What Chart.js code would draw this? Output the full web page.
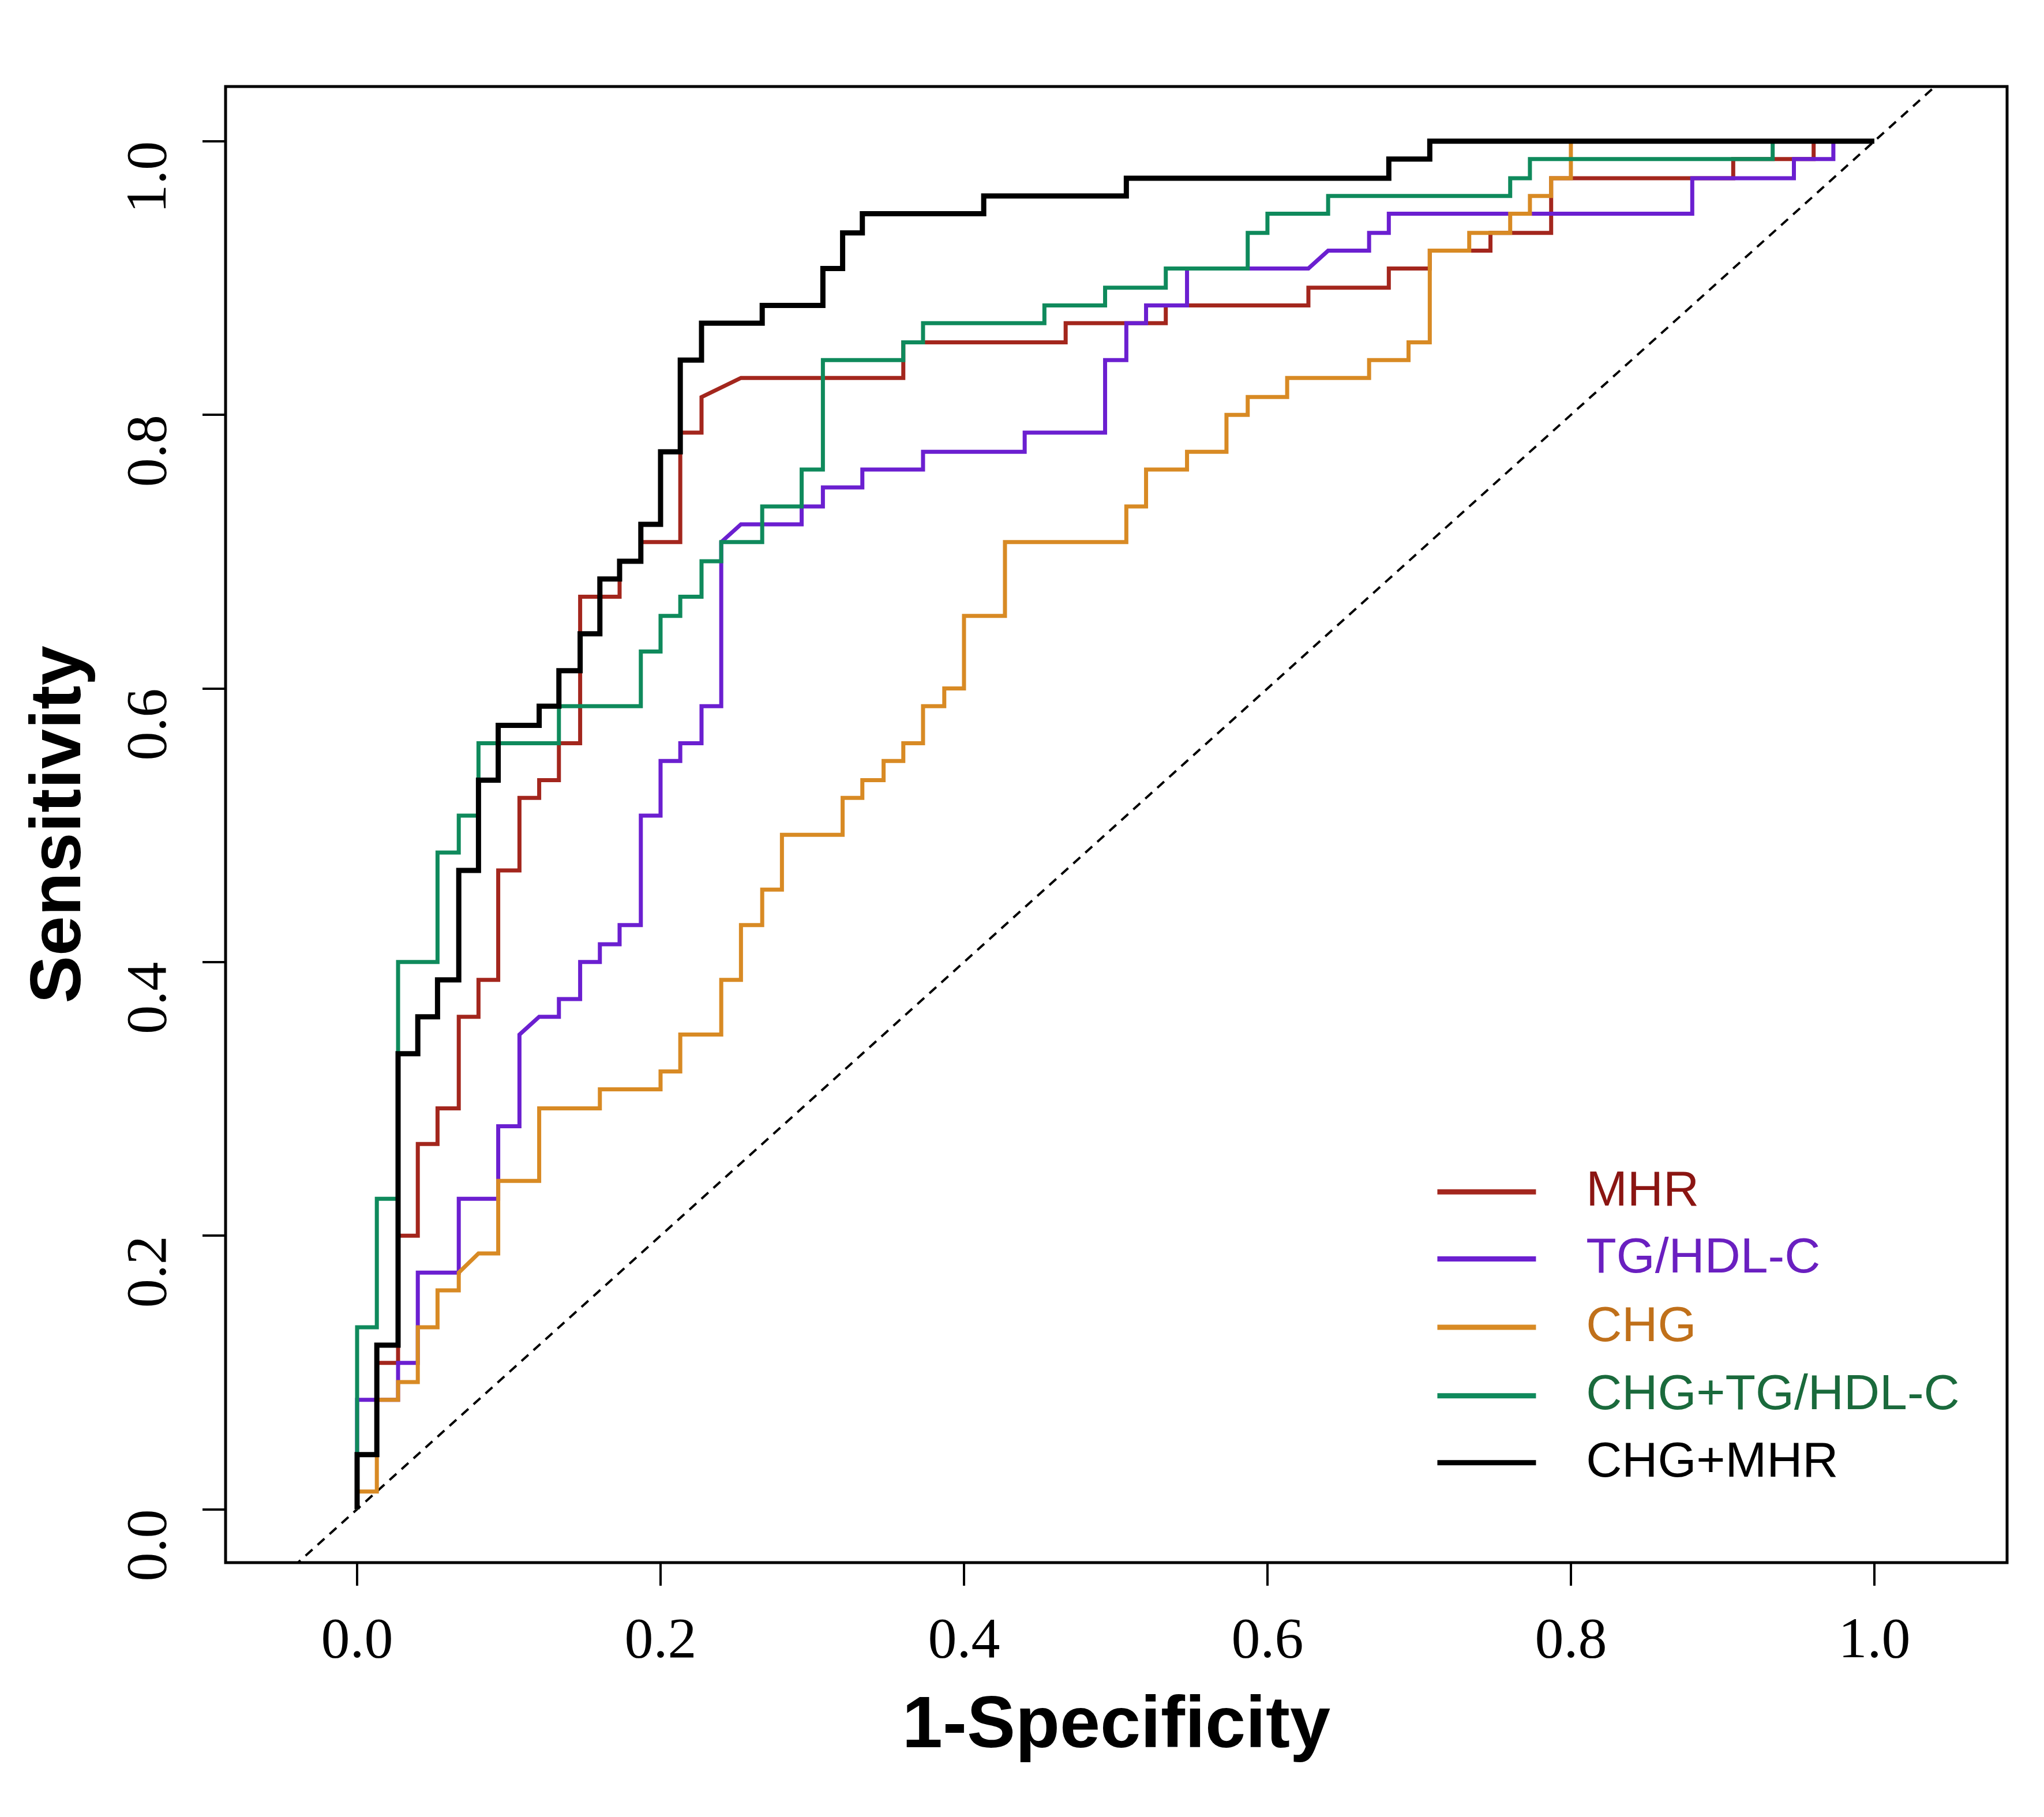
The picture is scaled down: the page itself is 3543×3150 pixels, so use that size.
<!DOCTYPE html>
<html>
<head>
<meta charset="utf-8">
<script src="https://cdn.jsdelivr.net/npm/chart.js@4.4.1/dist/chart.umd.min.js"></script>
<style>
  html, body { margin: 0; padding: 0; background: #fff; }
  canvas { display: block; }
</style>
</head>
<body>
<canvas id="roc" width="3543" height="3150"></canvas>
<script>
const seriesNames = ["MHR", "TG/HDL-C", "CHG", "CHG+TG/HDL-C", "CHG+MHR"];
const lineColors = ["#a3261d", "#6b1fd0", "#d88a24", "#0f8a5c", "#000000"];
const labelColors = ["#8b1512", "#6a1fc0", "#c0701a", "#1a6a3c", "#000000"];
const tickValues = [0, 0.2, 0.4, 0.6, 0.8, 1.0];

const mhr = [[0,0],[0,0.04],[0.013,0.04],[0.013,0.107],[0.027,0.107],[0.027,0.2],[0.04,0.2],[0.04,0.267],[0.053,0.267],[0.053,0.293],[0.067,0.293],[0.067,0.36],[0.08,0.36],[0.08,0.387],[0.093,0.387],[0.093,0.467],[0.107,0.467],[0.107,0.52],[0.12,0.52],[0.12,0.533],[0.133,0.533],[0.133,0.56],[0.147,0.56],[0.147,0.667],[0.173,0.667],[0.173,0.693],[0.187,0.693],[0.187,0.707],[0.213,0.707],[0.213,0.787],[0.227,0.787],[0.227,0.813],[0.253,0.827],[0.36,0.827],[0.36,0.853],[0.467,0.853],[0.467,0.867],[0.533,0.867],[0.533,0.88],[0.627,0.88],[0.627,0.893],[0.68,0.893],[0.68,0.907],[0.707,0.907],[0.707,0.92],[0.747,0.92],[0.747,0.933],[0.787,0.933],[0.787,0.973],[0.907,0.973],[0.907,0.987],[0.96,0.987],[0.96,1],[1,1]];
const tgHdl = [[0,0],[0,0.08],[0.027,0.08],[0.027,0.107],[0.04,0.107],[0.04,0.173],[0.067,0.173],[0.067,0.227],[0.093,0.227],[0.093,0.28],[0.107,0.28],[0.107,0.347],[0.12,0.36],[0.133,0.36],[0.133,0.373],[0.147,0.373],[0.147,0.4],[0.16,0.4],[0.16,0.413],[0.173,0.413],[0.173,0.427],[0.187,0.427],[0.187,0.507],[0.2,0.507],[0.2,0.547],[0.213,0.547],[0.213,0.56],[0.227,0.56],[0.227,0.587],[0.24,0.587],[0.24,0.707],[0.253,0.72],[0.293,0.72],[0.293,0.733],[0.307,0.733],[0.307,0.747],[0.333,0.747],[0.333,0.76],[0.373,0.76],[0.373,0.773],[0.44,0.773],[0.44,0.787],[0.493,0.787],[0.493,0.84],[0.507,0.84],[0.507,0.867],[0.52,0.867],[0.52,0.88],[0.547,0.88],[0.547,0.907],[0.627,0.907],[0.64,0.92],[0.667,0.92],[0.667,0.933],[0.68,0.933],[0.68,0.947],[0.88,0.947],[0.88,0.973],[0.947,0.973],[0.947,0.987],[0.973,0.987],[0.973,1],[1,1]];
const chg = [[0,0],[0,0.013],[0.013,0.013],[0.013,0.08],[0.027,0.08],[0.027,0.093],[0.04,0.093],[0.04,0.133],[0.053,0.133],[0.053,0.16],[0.067,0.16],[0.067,0.173],[0.08,0.187],[0.093,0.187],[0.093,0.24],[0.12,0.24],[0.12,0.293],[0.16,0.293],[0.16,0.307],[0.2,0.307],[0.2,0.32],[0.213,0.32],[0.213,0.347],[0.24,0.347],[0.24,0.387],[0.253,0.387],[0.253,0.427],[0.267,0.427],[0.267,0.453],[0.28,0.453],[0.28,0.493],[0.32,0.493],[0.32,0.52],[0.333,0.52],[0.333,0.533],[0.347,0.533],[0.347,0.547],[0.36,0.547],[0.36,0.56],[0.373,0.56],[0.373,0.587],[0.387,0.587],[0.387,0.6],[0.4,0.6],[0.4,0.653],[0.427,0.653],[0.427,0.707],[0.507,0.707],[0.507,0.733],[0.52,0.733],[0.52,0.76],[0.547,0.76],[0.547,0.773],[0.573,0.773],[0.573,0.8],[0.587,0.8],[0.587,0.813],[0.613,0.813],[0.613,0.827],[0.667,0.827],[0.667,0.84],[0.693,0.84],[0.693,0.853],[0.707,0.853],[0.707,0.92],[0.733,0.92],[0.733,0.933],[0.76,0.933],[0.76,0.947],[0.773,0.947],[0.773,0.96],[0.787,0.96],[0.787,0.973],[0.8,0.973],[0.8,1],[1,1]];
const chgTgHdl = [[0,0],[0,0.133],[0.013,0.133],[0.013,0.227],[0.027,0.227],[0.027,0.4],[0.053,0.4],[0.053,0.48],[0.067,0.48],[0.067,0.507],[0.08,0.507],[0.08,0.56],[0.133,0.56],[0.133,0.587],[0.187,0.587],[0.187,0.627],[0.2,0.627],[0.2,0.653],[0.213,0.653],[0.213,0.667],[0.227,0.667],[0.227,0.693],[0.24,0.693],[0.24,0.707],[0.267,0.707],[0.267,0.733],[0.293,0.733],[0.293,0.76],[0.307,0.76],[0.307,0.84],[0.36,0.84],[0.36,0.853],[0.373,0.853],[0.373,0.867],[0.453,0.867],[0.453,0.88],[0.493,0.88],[0.493,0.893],[0.533,0.893],[0.533,0.907],[0.587,0.907],[0.587,0.933],[0.6,0.933],[0.6,0.947],[0.64,0.947],[0.64,0.96],[0.76,0.96],[0.76,0.973],[0.773,0.973],[0.773,0.987],[0.933,0.987],[0.933,1],[1,1]];
const chgMhr = [[0,0],[0,0.04],[0.013,0.04],[0.013,0.12],[0.027,0.12],[0.027,0.333],[0.04,0.333],[0.04,0.36],[0.053,0.36],[0.053,0.387],[0.067,0.387],[0.067,0.467],[0.08,0.467],[0.08,0.533],[0.093,0.533],[0.093,0.573],[0.12,0.573],[0.12,0.587],[0.133,0.587],[0.133,0.613],[0.147,0.613],[0.147,0.64],[0.16,0.64],[0.16,0.68],[0.173,0.68],[0.173,0.693],[0.187,0.693],[0.187,0.72],[0.2,0.72],[0.2,0.773],[0.213,0.773],[0.213,0.84],[0.227,0.84],[0.227,0.867],[0.267,0.867],[0.267,0.88],[0.307,0.88],[0.307,0.907],[0.32,0.907],[0.32,0.933],[0.333,0.933],[0.333,0.947],[0.413,0.947],[0.413,0.96],[0.507,0.96],[0.507,0.973],[0.68,0.973],[0.68,0.987],[0.707,0.987],[0.707,1],[1,1]];
const diagonal = [[-0.2,-0.2],[1.2,1.2]];

const curves = [mhr, tgHdl, chg, chgTgHdl, chgMhr];
const toPts = (arr) => arr.map(([x, y]) => ({ x, y }));

const serif = "'Liberation Serif', 'DejaVu Serif', serif";
const sans = "'Liberation Sans', Arial, sans-serif";

const frameAndLegend = {
  id: "frameAndLegend",
  afterDraw(chart) {
    const { ctx, chartArea, scales } = chart;
    ctx.save();
    ctx.strokeStyle = "#000";
    ctx.lineWidth = 5;
    ctx.strokeRect(chartArea.left, chartArea.top, chartArea.right - chartArea.left, chartArea.bottom - chartArea.top);
    // legend
    const rowsY = [0.232, 0.183, 0.133, 0.083, 0.034];
    const x1 = scales.x.getPixelForValue(0.712);
    const x2 = scales.x.getPixelForValue(0.777);
    const xt = scales.x.getPixelForValue(0.81);
    ctx.font = `86px ${sans}`;
    ctx.textBaseline = "middle";
    seriesNames.forEach((name, i) => {
      const y = scales.y.getPixelForValue(rowsY[i]);
      ctx.strokeStyle = lineColors[i];
      ctx.lineWidth = 9;
      ctx.beginPath();
      ctx.moveTo(x1, y);
      ctx.lineTo(x2, y);
      ctx.stroke();
      ctx.fillStyle = labelColors[i];
      ctx.fillText(name, xt, y);
    });
    ctx.restore();
  },
};

const datasets = curves.map((c, i) => ({
  label: seriesNames[i],
  data: toPts(c),
  borderColor: lineColors[i],
  borderWidth: i === 4 ? 9 : 7,
  showLine: true,
  pointRadius: 0,
  order: 5 - i,
}));
datasets.push({
  label: "ref",
  data: toPts(diagonal),
  borderColor: "#000",
  borderWidth: 4,
  borderDash: [16, 12],
  showLine: true,
  pointRadius: 0,
  order: 10,
});

const setTicks = (axis) => { axis.ticks = tickValues.map((v) => ({ value: v })); };

new Chart(document.getElementById("roc"), {
  type: "scatter",
  data: { datasets },
  plugins: [frameAndLegend],
  options: {
    responsive: false,
    animation: false,
    devicePixelRatio: 1,
    layout: { padding: { top: 69, right: 64, bottom: 80, left: 30 } },
    plugins: { legend: { display: false }, tooltip: { enabled: false } },
    scales: {
      x: {
        type: "linear",
        min: -0.0867,
        max: 1.0875,
        afterBuildTicks: setTicks,
        afterFit: (s) => { s.height = 361; },
        border: { display: false },
        grid: { drawOnChartArea: false, drawTicks: true, tickLength: 40, color: "#000", lineWidth: 4 },
        ticks: { color: "#000", font: { family: serif, size: 100 }, padding: 38, maxRotation: 0, callback: (v) => v.toFixed(1) },
        title: { display: true, text: "1-Specificity", color: "#000", font: { family: sans, size: 126, weight: "bold" }, padding: 0 },
      },
      y: {
        type: "linear",
        min: -0.039,
        max: 1.04,
        afterBuildTicks: setTicks,
        afterFit: (s) => { s.width = 361; },
        border: { display: false },
        grid: { drawOnChartArea: false, drawTicks: true, tickLength: 40, color: "#000", lineWidth: 4 },
        ticks: { color: "#000", font: { family: serif, size: 100 }, padding: 90, minRotation: 90, maxRotation: 90, callback: (v) => v.toFixed(1) },
        title: { display: true, text: "Sensitivity", color: "#000", font: { family: sans, size: 124, weight: "bold" }, padding: 0 },
      },
    },
  },
});
</script>
</body>
</html>
